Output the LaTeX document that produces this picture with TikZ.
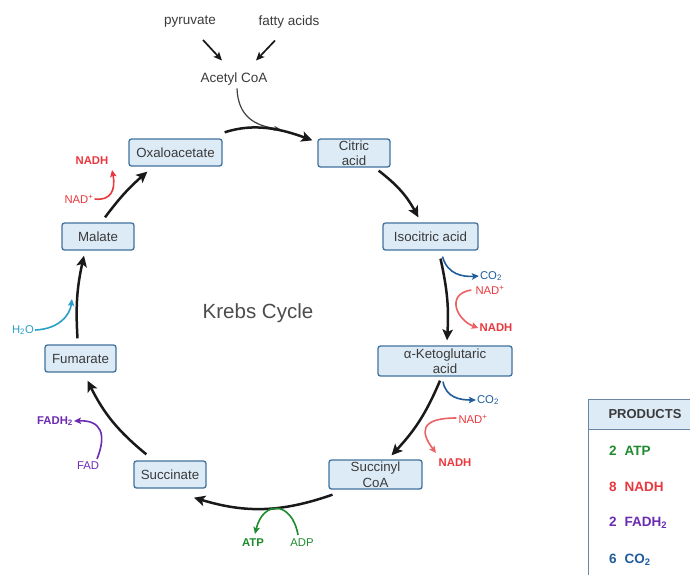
\documentclass[tikz,border=0pt]{standalone}
\usepackage{fontspec}
\setmainfont{Liberation Sans}
\usetikzlibrary{arrows.meta}
\definecolor{boxf}{HTML}{DDEBF7}
\definecolor{boxd}{HTML}{41719C}
\definecolor{txt}{HTML}{3A3A3A}
\definecolor{cred}{HTML}{E8383D}
\definecolor{cblue}{HTML}{1F5C99}
\definecolor{cpurp}{HTML}{6B2BB0}
\definecolor{cgreen}{HTML}{1E8B2E}
\definecolor{ccyan}{HTML}{2A9FC6}
\definecolor{tabd}{HTML}{6A86A3}
\begin{document}
\begin{tikzpicture}[x=1pt,y=-1pt,
  box/.style={draw=boxd, fill=boxf, rounded corners=2.5pt, line width=1.3pt,
    minimum height=27pt, inner sep=0pt, text=txt, align=center,
    font=\fontsize{13.3}{13.5}\selectfont},
  lab/.style={inner sep=1pt, text=txt, font=\fontsize{13.5}{14}\selectfont},
  side/.style={inner sep=1pt, font=\fontsize{11.3}{12}\selectfont},
  sideb/.style={inner sep=1pt, font=\fontsize{11.3}{12}\selectfont\bfseries},
  main/.style={line width=2.5pt, draw=black!90, -{Stealth[length=11pt,width=10.5pt,inset=2.5pt]}},
  feed/.style={line width=1.2pt, draw=black!75, -{Stealth[length=6pt,width=5pt]}},
  inarr/.style={line width=1.7pt, draw=black!90, -{Stealth[length=8.5pt,width=7.5pt,inset=2pt]}},
  sarr/.style={line width=1.6pt, -{Stealth[length=7pt,width=6.5pt,inset=1.5pt]}},
  prod/.style={inner sep=0pt, anchor=west, font=\fontsize{13.5}{14}\selectfont\bfseries}
]
\useasboundingbox (0,0) rectangle (690,574);

% top inputs
\node[lab] (pyr) at (190,22) {pyruvate};
\node[lab] (fat) at (289,22) {fatty acids};
\node[lab] (acetyl) at (234,79) {Acetyl CoA};

% cycle boxes
\node[box, minimum width=93pt] (oxa) at (175.5,152.5) {Oxaloacetate};
\node[box, minimum width=72pt, minimum height=28pt] (citric) at (354,153) {Citric\\[1.5pt]acid};
\node[box, minimum width=95pt] (iso) at (430.5,236.5) {Isocitric acid};
\node[box, minimum width=134pt, minimum height=30pt] (akg) at (445,361) {α-Ketoglutaric\\[2pt]acid};
\node[box, minimum width=93pt, minimum height=29pt] (succoa) at (375.5,474.5) {Succinyl\\[2pt]CoA};
\node[box, minimum width=72pt] (succ) at (170,474.5) {Succinate};
\node[box, minimum width=71pt] (fum) at (80.5,358.5) {Fumarate};
\node[box, minimum width=72pt] (mal) at (98,236.5) {Malate};

\node[text=black!70, inner sep=0pt, font=\fontsize{20.5}{22}\selectfont] (title) at (258,313) {Krebs Cycle};

% input arrows
\draw[inarr] ([shift={(13,11)}]pyr.south) -- ([shift={(-12,-11)}]acetyl.north);
\draw[inarr] ([shift={(-14,11)}]fat.south) -- ([shift={(22,-11)}]acetyl.north);
\coordinate (feedend) at (280,129);
\draw[feed] ([shift={(3,2)}]acetyl.south) .. controls +(1,28) and +(-25,-3) .. (feedend);

% main cycle arrows
\draw[main] ([shift={(2,-6)}]oxa.north east) .. controls +(30,-10) and +(-30,-11) .. ([shift={(-5,2)}]citric.north west);
\draw[main] ([shift={(-12,3)}]citric.south east) to[bend left=12] ([shift={(36,-5)}]iso.north west);
\draw[main] ([shift={(10,8)}]iso.south) to[bend left=8] ([shift={(2,-5)}]akg.north);
\draw[main] ([shift={(-5,4)}]akg.south) to[bend left=10] ([shift={(16,-4)}]succoa.north);
\draw[main] ([shift={(-43,5)}]succoa.south) to[bend left=18] ([shift={(24,9)}]succ.south);
\draw[main] ([shift={(13,-6)}]succ.north west) to[bend left=12] ([shift={(7,8)}]fum.south);
\draw[main] ([shift={(-3,-6)}]fum.north) to[bend left=8] ([shift={(-14,5)}]mal.south);
\draw[main] ([shift={(7,-5)}]mal.north) to[bend left=6] ([shift={(19,5)}]oxa.south west);

% side reactions
% malate -> oxaloacetate
\node[side, text=cred] (nad1) at (79,199) {NAD\textsuperscript{+}};
\node[sideb, text=cred] (nadh1) at (92,161) {NADH};
\coordinate (t1) at (112,170);
\draw[sarr, draw=cred] (nad1.east) .. controls +(16,2) and +(4,20) .. (t1);

% isocitric -> akg
\node[side, text=cblue] (co2a) at (491,276) {CO\textsubscript{2}};
\node[side, text=cred] (nad2) at (490,290) {NAD\textsuperscript{+}};
\node[sideb, text=cred] (nadh2) at (496,328) {NADH};
\draw[sarr, draw=cblue] ([shift={(12,6)}]iso.south) .. controls +(5,18) and +(-16,1) .. (co2a.west);
\draw[sarr, draw=cred!80] ([shift={(-3,0)}]nad2.west) .. controls +(-26,4) and +(-22,-8) .. (nadh2.west);

% akg -> succinyl CoA
\node[side, text=cblue] (co2b) at (488,400) {CO\textsubscript{2}};
\node[side, text=cred] (nad3) at (473,419) {NAD\textsuperscript{+}};
\node[sideb, text=cred] (nadh3) at (455,463) {NADH};
\draw[sarr, draw=cblue] ([shift={(-2,5)}]akg.south) .. controls +(3,16) and +(-16,0) .. (co2b.west);
\coordinate (t3) at (436,453);
\draw[sarr, draw=cred!80] ([shift={(-1,-1)}]nad3.west) .. controls +(-38,0) and +(-15,-20) .. (t3);

% succinyl CoA -> succinate
\node[sideb, text=cgreen] (atp) at (253,543) {ATP};
\node[side, text=cgreen] (adp) at (302,543) {ADP};
\coordinate (t4) at (255,534);
\draw[sarr, draw=cgreen] ([shift={(-4,-3)}]adp.north) .. controls +(-6,-34) and +(8,-34) .. (t4);

% succinate -> fumarate
\node[side, text=cpurp] (fad) at (88,466) {FAD};
\node[sideb, text=cpurp] (fadh) at (55,421) {FADH\textsubscript{2}};
\draw[sarr, draw=cpurp] ([shift={(9,-2)}]fad.north) .. controls +(10,-25) and +(27,-1) .. (fadh.east);

% fumarate -> malate
\node[side, text=ccyan] (h2o) at (23,330) {H\textsubscript{2}O};
\coordinate (t5) at (72,299);
\draw[sarr, draw=ccyan] (h2o.east) .. controls +(24,-1) and +(-2,16) .. (t5);

% products table
\fill[boxf] (588,399) rectangle (692,429);
\draw[tabd, line width=1pt] (588,575) -- (588,399) -- (692,399);
\draw[tabd, line width=1pt] (588,429) -- (692,429);
\node[inner sep=0pt, text=txt, font=\fontsize{13}{14}\selectfont\bfseries] (ptitle) at (645,414) {PRODUCTS};
\node[prod, text=cgreen] (p1) at (609,451) {2\hspace{8pt}ATP};
\node[prod, text=cred] (p2) at (609,487) {8\hspace{8pt}NADH};
\node[prod, text=cpurp] (p3) at (609,523) {2\hspace{8pt}FADH\textsubscript{2}};
\node[prod, text=cblue] (p4) at (609,560) {6\hspace{8pt}CO\textsubscript{2}};
\end{tikzpicture}
\end{document}
